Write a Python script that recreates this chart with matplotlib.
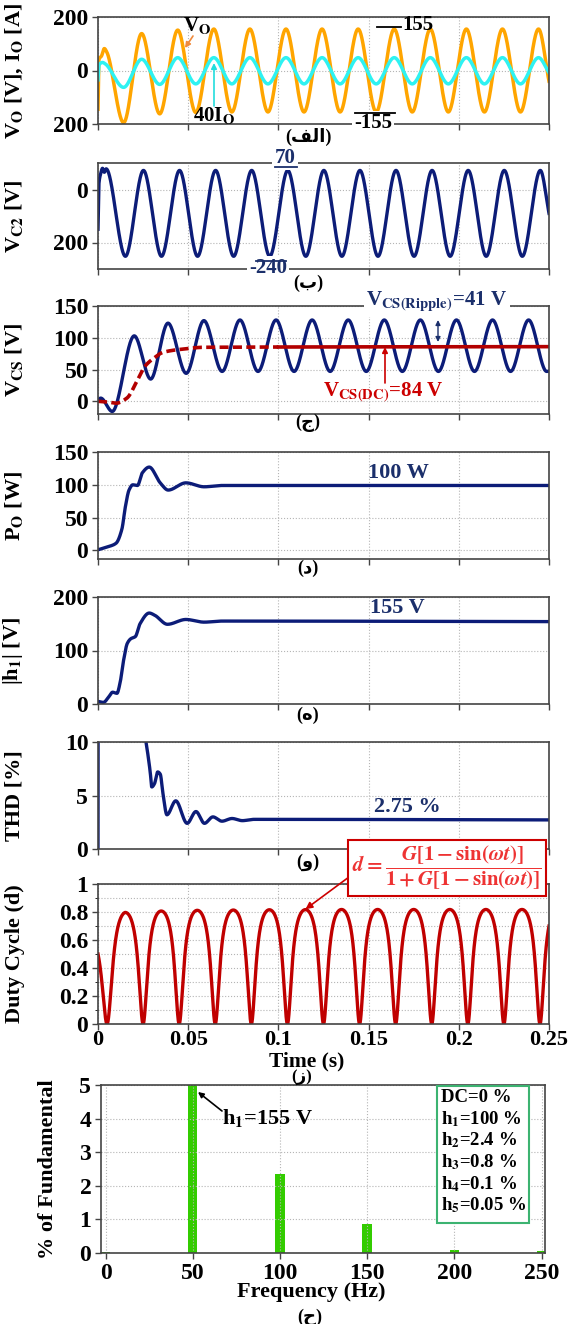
import numpy as np
import matplotlib.pyplot as plt
from matplotlib.lines import Line2D
from matplotlib.patches import FancyArrowPatch, Rectangle

plt.rcParams['font.family'] = ['Liberation Serif', 'DejaVu Sans']
plt.rcParams['font.weight'] = 'bold'
plt.rcParams['mathtext.fontset'] = 'stix'
plt.rcParams['axes.unicode_minus'] = False

# ---- data ----
half = 0.01  # half period of the 50 Hz waveforms [s]

# output voltage Vo (extrema)
vo_pre_t = [0.0, 0.0005, 0.002, 0.0035, 0.0048]
vo_pre_v = [-145, 40, 55, 82, 70]
vo_t0 = 0.0142
vo_ext = [-195, 138, -162, 151, -157, 155, -155, 155, -155, 155, -155, 155,
          -155, 155, -155, 155, -155, 155, -155, 155, -155, 155, -155, 155]
vo_end = -40

# 40*Io (extrema)
io_pre_t = [0.0, 0.0005, 0.0025, 0.004]
io_pre_v = [-35, 20, 30, 25]
io_t0 = 0.0142
io_ext = [-63, 42, -52, 48, -50, 48, -50, 48, -50, 48, -50, 48,
          -50, 48, -50, 48, -50, 48, -50, 48, -50, 48, -50, 48]
io_end = -8

# Vc2 (extrema)
vc2_pre_t = [0.0, 0.0005, 0.0015, 0.0025, 0.0035, 0.0045]
vc2_pre_v = [-150, 20, 60, 80, 65, 78]
vc2_t0 = 0.0152
vc2_ext = [-252, 72, -252, 72, -252, 72, -252, 72, -252, 72, -252, 72,
           -252, 72, -252, 72, -252, 72, -252, 72, -252, 72, -252, 72]
vc2_end = -90

# Vcs (extrema)
vcs_pre_t = [0.0, 0.0015, 0.0079, 0.0201, 0.0292, 0.0388, 0.0489, 0.0587, 0.0688]
vcs_pre_v = [2, 5, -16, 103, 35, 123, 44, 127, 47]
vcs_t0 = 0.0787
vcs_ext = [128, 47, 128, 47, 128, 47, 128, 47, 128, 47, 128, 47,
           128, 47, 128, 47, 128, 47]
vcs_end = 47.5

# Vcs DC component
dc_t = [0.0, 0.005, 0.010, 0.016, 0.022, 0.026, 0.031, 0.036, 0.0465, 0.0587, 0.25]
dc_v = [0, -1, -3, 5, 34, 55, 68, 77, 82, 85, 86]

# output power
po_t = [0.0, 0.006, 0.010, 0.0132, 0.0152, 0.0172, 0.0193, 0.0219, 0.0245, 0.0284,
        0.0345, 0.0389, 0.0487, 0.0588, 0.0689, 0.25]
po_v = [1, 6, 11, 32, 67, 92, 100, 99, 118, 127, 103, 92, 103, 97, 99, 99]

# fundamental magnitude
h1_t = [0.0, 0.003, 0.0061, 0.0081, 0.0105, 0.0122, 0.0142, 0.0162, 0.0182, 0.0207,
        0.0233, 0.0284, 0.0314, 0.0385, 0.0487, 0.0588, 0.0689, 0.25]
h1_v = [5, 3, 14, 22, 20, 39, 82, 113, 122, 126, 150, 170, 166, 149, 158, 153, 155, 154]

# THD
thd_t = [0.0, 0.0002, 0.02, 0.0266, 0.0281, 0.029, 0.0298, 0.0313, 0.0331, 0.0345,
         0.036, 0.0382, 0.0431, 0.0494, 0.0543, 0.059, 0.0637, 0.0687, 0.0743, 0.08,
         0.0865, 0.25]
thd_v = [0, 40, 16, 10, 8.3, 7.1, 5.8, 6.1, 7.2, 7.0, 5.2, 3.2, 4.5, 2.4, 3.5, 2.4,
         3.0, 2.6, 2.85, 2.65, 2.77, 2.72]

# duty cycle: start value, peak per cycle, end value
duty_start = 0.5
duty_pk_t0 = 0.015
duty_pk = [0.797, 0.807, 0.812, 0.814, 0.816, 0.817, 0.818, 0.818, 0.818, 0.818, 0.818, 0.818]
duty_end = 0.70

# harmonic spectrum
freq = [0, 50, 100, 150, 200, 250]
harm = [0.02, 100, 2.35, 0.85, 0.1, 0.05]
harm_txt = ['DC=0 %', 'h$_\\mathbf{1}$=100 %', 'h$_\\mathbf{2}$=2.4 %',
            'h$_\\mathbf{3}$=0.8 %', 'h$_\\mathbf{4}$=0.1 %', 'h$_\\mathbf{5}$=0.05 %']


def pchip(x, y, xn):
    x = np.asarray(x, float)
    y = np.asarray(y, float)
    h = np.diff(x)
    d = np.diff(y) / h
    m = np.zeros_like(y)
    m[0], m[-1] = d[0], d[-1]
    for k in range(1, len(x) - 1):
        if d[k - 1] * d[k] > 0:
            w1 = 2 * h[k] + h[k - 1]
            w2 = h[k] + 2 * h[k - 1]
            m[k] = (w1 + w2) / (w1 / d[k - 1] + w2 / d[k])
    i = np.clip(np.searchsorted(x, xn) - 1, 0, len(x) - 2)
    s = (xn - x[i]) / h[i]
    return ((2 * s**3 - 3 * s**2 + 1) * y[i] + (s**3 - 2 * s**2 + s) * h[i] * m[i]
            + (-2 * s**3 + 3 * s**2) * y[i + 1] + (s**3 - s**2) * h[i] * m[i + 1])


t = np.linspace(0, 0.25, 6001)


def trace(pre_t, pre_v, t0, ext, end):
    ext_t = t0 + half * np.arange(len(ext))
    x = np.concatenate([pre_t, ext_t, [0.25]])
    y = np.concatenate([pre_v, ext, [end]])
    return pchip(x, y, t)


vo = trace(vo_pre_t, vo_pre_v, vo_t0, vo_ext, vo_end)
io = trace(io_pre_t, io_pre_v, io_t0, io_ext, io_end)
vc2 = trace(vc2_pre_t, vc2_pre_v, vc2_t0, vc2_ext, vc2_end)
vcs = trace(vcs_pre_t, vcs_pre_v, vcs_t0, vcs_ext, vcs_end)
vdc = pchip(dc_t, dc_v, t)
po = pchip(po_t, po_v, t)
h1 = pchip(h1_t, h1_v, t)
thd = pchip(thd_t, thd_v, t)

pk = np.array(duty_pk)
g_t = np.concatenate([[0], duty_pk_t0 + 2 * half * np.arange(len(pk)), [0.25]])
g_v = np.concatenate([[duty_start / (1 - duty_start)], pk / (2 * (1 - pk)),
                      [duty_end / (1 - duty_end)]])
G = np.interp(t, g_t, g_v)
u = G * (1 - np.sin(2 * np.pi * 50 * t))
duty = u / (1 + u)

# ---- figure ----
W, H = 571, 1324
fig = plt.figure(figsize=(W / 100, H / 100), dpi=100)

NAVY = '#0c1c78'
TNAVY = '#1b2f6b'
RED = '#b30000'


def rect(l, tp, r, b):
    return [l / W, 1 - b / H, (r - l) / W, (b - tp) / H]


def fp(x, y):
    return (x / W, 1 - y / H)


def ftext(x, y, s, **kw):
    kw.setdefault('ha', 'center')
    kw.setdefault('va', 'center')
    kw.setdefault('fontsize', 15)
    kw.setdefault('fontweight', 'bold')
    return fig.text(*fp(x, y), s, **kw)


def fline(x0, x1, y, color='k', lw=1.3):
    fig.add_artist(Line2D([x0 / W, x1 / W], [1 - y / H] * 2,
                          transform=fig.transFigure, color=color, lw=lw, zorder=6))


def farrow(p0, p1, color='k', style='-|>', lw=1.2, ms=10):
    fig.add_artist(FancyArrowPatch(fp(*p0), fp(*p1), transform=fig.transFigure,
                                   arrowstyle=style, mutation_scale=ms, color=color,
                                   lw=lw, shrinkA=0, shrinkB=0, zorder=6))


def style(ax, ylabel, labx=-0.162, time_axis=True):
    for sp in ax.spines.values():
        sp.set_color('#444444')
        sp.set_linewidth(1.2)
    ax.grid(True, ls=':', color='#b5b5b5', lw=0.8)
    ax.tick_params(labelsize=17, length=4, width=1, color='#444444', pad=3)
    for lb in ax.get_yticklabels():
        lb.set_fontweight('bold')
    if time_axis:
        ax.set_xlim(0, 0.25)
        ax.set_xticks(np.arange(0, 0.2501, 0.05))
        ax.tick_params(labelbottom=False)
    ax.set_ylabel(ylabel, fontsize=16, fontweight='bold')
    ax.yaxis.set_label_coords(labx, 0.5)


BX0, BX1 = 98, 549
sub_x = 308

# (a) Vo and 40 Io
ax1 = fig.add_axes(rect(BX0, 17, BX1, 124))
ax1.plot(t, vo, color='#ffa500', lw=2.5)
ax1.plot(t, io, color='#2ef2f2', lw=2.5)
ax1.set_ylim(-200, 200)
ax1.set_yticks([-200, 0, 200], ['200', '0', '200'])
style(ax1, 'V$_\\mathbf{O}$ [V], I$_\\mathbf{O}$ [A]')
ftext(197, 26, 'V$_\\mathbf{O}$', fontsize=15)
farrow((193, 36), (185, 48), color='#f08a3c', ms=8)
ftext(214, 116, '40I$_\\mathbf{O}$', fontsize=15)
farrow((214, 106), (214, 63), color='#22dddd', ms=8)
fline(377, 401, 27)
ftext(418, 25, '155', fontsize=15)
ftext(373, 123, '-155', fontsize=15,
      bbox=dict(facecolor='white', edgecolor='none', pad=1.5))
fline(355, 395, 113)
ftext(sub_x, 137, '(\ufed2\ufedf\u0627)', fontsize=13)

# (b) Vc2
ax2 = fig.add_axes(rect(BX0, 163, BX1, 269))
ax2.plot(t, vc2, color=NAVY, lw=2.4)
ax2.set_ylim(-300, 100)
ax2.set_yticks([-200, 0], ['200', '0'])
style(ax2, 'V$_\\mathbf{C2}$ [V]')
ftext(285, 158, '70', color=TNAVY, fontsize=15,
      bbox=dict(facecolor='white', edgecolor='none', pad=1.5))
fline(275, 297, 167, color=TNAVY)
ftext(268, 268, '-240', color=TNAVY, fontsize=15,
      bbox=dict(facecolor='white', edgecolor='none', pad=1.5))
fline(256, 286, 261, color=TNAVY)
ftext(sub_x, 283, '(\u0628)', fontsize=13)

# (c) Vcs
ax3 = fig.add_axes(rect(BX0, 306, BX1, 414))
ax3.plot(t, vcs, color=NAVY, lw=2.4)
m = t <= 0.1
ax3.plot(t[m], vdc[m], color=RED, lw=2.6, dashes=(2.5, 1.2))
ax3.plot(t[~m], vdc[~m], color=RED, lw=2.6)
ax3.set_ylim(-20, 150)
ax3.set_yticks([0, 50, 100, 150])
style(ax3, 'V$_\\mathbf{CS}$ [V]')
ftext(437, 302, 'V$_\\mathbf{CS(Ripple)}$=41 V', color=TNAVY, fontsize=15,
      bbox=dict(facecolor='white', edgecolor='none', pad=2))
farrow((438, 320), (438, 342), color=TNAVY, style='<|-|>', lw=1.0, ms=7)
ftext(383, 392, 'V$_\\mathbf{CS(DC)}$=84 V', color='#cc0000', fontsize=15)
farrow((385, 383), (385, 347), color='#cc0000', ms=8)
ftext(sub_x, 423, '(\u062c)', fontsize=13)

# (d) Po
ax4 = fig.add_axes(rect(BX0, 452, BX1, 559))
ax4.plot(t, po, color=NAVY, lw=2.4)
ax4.set_ylim(-13, 150)
ax4.set_yticks([0, 50, 100, 150])
style(ax4, 'P$_\\mathbf{O}$ [W]')
ftext(398, 473, '100 W', color=TNAVY, fontsize=16)
ftext(sub_x, 568, '(\u062f)', fontsize=13)

# (e) |h1|
ax5 = fig.add_axes(rect(BX0, 597, BX1, 704))
ax5.plot(t, h1, color=NAVY, lw=2.4)
ax5.set_ylim(0, 200)
ax5.set_yticks([0, 100, 200])
style(ax5, '|h$_\\mathbf{1}$| [V]')
ftext(397, 608, '155 V', color=TNAVY, fontsize=16)
ftext(sub_x, 715, '(\u0647)', fontsize=13)

# (f) THD
ax6 = fig.add_axes(rect(BX0, 742, BX1, 849))
ax6.plot(t, thd, color=NAVY, lw=2.4)
ax6.set_ylim(0, 10)
ax6.set_yticks([0, 5, 10])
style(ax6, 'THD [%]')
ftext(407, 807, '2.75 %', color=TNAVY, fontsize=16)
ftext(sub_x, 862, '(\u0648)', fontsize=13)

# (g) duty cycle
ax7 = fig.add_axes(rect(BX0, 884, BX1, 1024))
ax7.plot(t, duty, color='#c00000', lw=2.4)
ax7.set_ylim(0, 1)
ax7.set_yticks(np.arange(0, 1.01, 0.2), ['0', '0.2', '0.4', '0.6', '0.8', '1'])
ax7.set_yticks(np.arange(0.1, 1.0, 0.2), minor=True)
style(ax7, 'Duty Cycle (d)')
ax7.grid(True, which='minor', axis='y', ls=':', color='#b5b5b5', lw=0.8)
ax7.tick_params(axis='x', labelbottom=True, pad=0.5, labelsize=16)
ax7.set_xticklabels(['0', '0.05', '0.1', '0.15', '0.2', '0.25'], fontweight='bold')
ftext(307, 1061, 'Time (s)', fontsize=15.5)
ftext(302, 1077, '(\u0632)', fontsize=12)
ftext(447, 868, r'$d=\dfrac{G[1-\sin(\omega t)]}{1+G[1-\sin(\omega t)]}$',
      color='#ee3333', fontsize=15, fontweight='normal',
      bbox=dict(facecolor='white', edgecolor='#cc0000', lw=1.5, pad=3))
ax7.annotate('', xy=(0.115, 0.82), xycoords='data', xytext=fp(349, 877),
             textcoords='figure fraction',
             arrowprops=dict(arrowstyle='-|>', color='#cc0000', lw=1.2,
                             mutation_scale=10, shrinkA=0, shrinkB=0),
             annotation_clip=False)

# (h) harmonic spectrum
ax8 = fig.add_axes(rect(101, 1085, 545, 1253))
ax8.bar(freq, harm, width=5.4, color='#33cc00')
ax8.set_xlim(-2.6, 252)
ax8.set_ylim(0, 5)
ax8.set_xticks([0, 50, 100, 150, 200, 250])
ax8.set_yticks([0, 1, 2, 3, 4, 5])
style(ax8, '% of Fundamental', labx=-0.097, time_axis=False)
for lb in ax8.get_xticklabels():
    lb.set_fontweight('bold')
ftext(311, 1292, 'Frequency (Hz)', fontsize=16)
ftext(310, 1317, '(\u062d)', fontsize=13)
ftext(267, 1118, 'h$_\\mathbf{1}$=155 V', fontsize=16)
farrow((222, 1111), (198, 1092), ms=8)
fig.add_artist(Rectangle(fp(437, 1223), 92 / W, 137 / H, transform=fig.transFigure,
                         facecolor='white', edgecolor='#3cb371', lw=1.5, zorder=5))
for i, s in enumerate(harm_txt):
    ftext(441, 1097 + 21.7 * i, s, ha='left', fontsize=13.5, zorder=7)

fig.savefig('out.png', dpi=100)
